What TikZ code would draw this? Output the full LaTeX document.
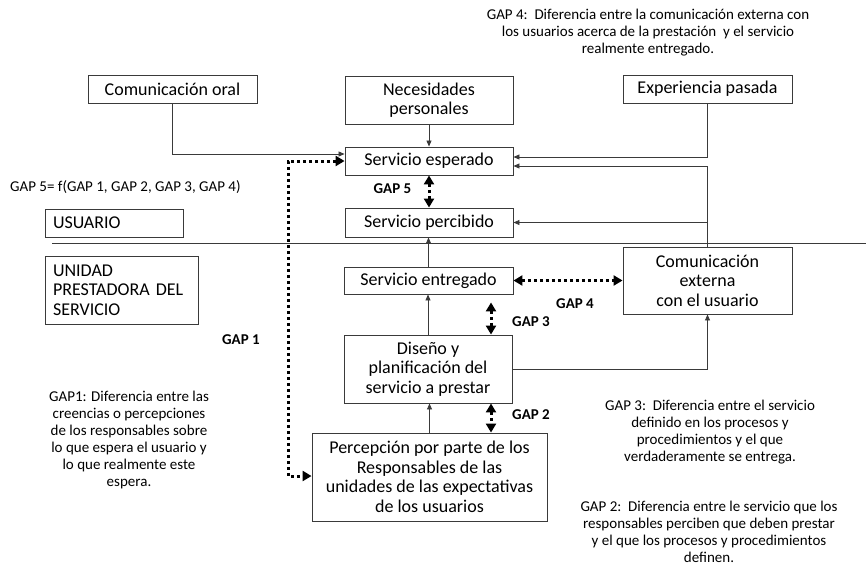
\documentclass[tikz,border=0pt]{standalone}
\usepackage{fontspec}
\setmainfont{Carlito}
\usetikzlibrary{arrows.meta}
\definecolor{linegray}{HTML}{3A3A3A}
\newcommand\bxfont{\fontsize{18}{19.5}\selectfont}
\newcommand\ntfont{\fontsize{15}{17}\selectfont}
\begin{document}
\begin{tikzpicture}[x=1pt,y=-1pt,
  box/.style={draw=linegray, line width=0.9pt, inner sep=0pt, align=center, font=\bxfont},
  sidebox/.style={draw=linegray, line width=0.9pt, inner ysep=0pt, inner xsep=8pt, align=left, font=\bxfont},
  note/.style={align=center, font=\ntfont, inner sep=0pt},
  gaplabel/.style={font=\ntfont\bfseries, inner sep=0pt},
  link/.style={draw=linegray, line width=0.8pt, -{Triangle[length=6pt,width=5pt]}},
  gapline/.style={draw=black, line width=3pt, dash pattern=on 3pt off 3pt,
    {Triangle[length=9pt,width=10pt]}-{Triangle[length=9pt,width=10pt]}}]
\useasboundingbox (0,0) rectangle (866,565);

% influences on the expected service
\node[box, minimum width=169pt, minimum height=28pt] (oral) at (172.5,89) {Comunicación oral};
\node[box, minimum width=168pt, minimum height=48pt] (nec) at (429,100) {Necesidades\\personales};
\node[box, minimum width=169pt, minimum height=28pt] (exp) at (707.5,89) {Experiencia pasada};

% service chain
\node[box, minimum width=168pt, minimum height=28pt] (esp) at (429,161) {Servicio esperado};
\node[box, minimum width=168pt, minimum height=29pt] (per) at (429,222.5) {Servicio percibido};
\node[box, minimum width=169pt, minimum height=27pt] (ent) at (428.5,280.5) {Servicio entregado};
\node[box, minimum width=169pt, minimum height=67pt] (comext) at (707.5,280.5) {Comunicación\\externa\\con el usuario};
\node[box, minimum width=168pt, minimum height=68pt] (dis) at (428,369) {Diseño y\\planificación del\\servicio a prestar};
\node[box, minimum width=235pt, minimum height=88pt] (perc) at (429.5,477) {Percepción por parte de los\\Responsables de las\\unidades de las expectativas\\de los usuarios};

% side labels
\node[sidebox, text width=122pt, minimum height=28pt] (usr) at (114,223) {USUARIO};
\node[sidebox, text width=137pt, minimum height=68pt] (upr) at (121.5,290) {UNIDAD\\PRESTADORA DEL\\SERVICIO};

% divider between user and provider
\coordinate (divl) at (52,243);
\coordinate (divr) at (866,243);
\draw[draw=linegray, line width=0.9pt] (divl) -- (divr);

% solid connectors
\draw[link] (oral.south) |- ([yshift=7pt]esp.west);
\draw[link] (nec.south) -- (esp.north);
\draw[link] (exp.south) |- ([yshift=4pt]esp.east);
\draw[link] (comext.north) |- ([yshift=-5pt]esp.east);
\draw[link] (comext.north |- per.east) -- (per.east);
\draw[link] (ent.north) -- (ent.north |- per.south);
\draw[link] (dis.north) -- (dis.north |- ent.south);
\draw[link] (perc.north) -- (perc.north |- dis.south);
\draw[link] (dis.east) -| (comext.south);

% gaps
\coordinate (gx) at (491,0);
\coordinate (g1top) at (288,161);
\coordinate (g1bot) at (288,476);
\draw[gapline] (esp.west) -- (g1top) -- (g1bot) -- (perc.west |- g1bot);
\draw[gapline] (esp.south) -- (per.north);
\draw[gapline] (ent.east) -- (comext.west);
\draw[gapline, shorten <=8pt] (ent.south -| gx) -- (dis.north -| gx);
\draw[gapline] (dis.south -| gx) -- (perc.north -| gx);

\node[gaplabel] (l5) at (392.5,189) {GAP 5};
\node[gaplabel] (l4) at (575,304) {GAP 4};
\node[gaplabel] (l3) at (531,322) {GAP 3};
\node[gaplabel] (l2) at (531,415) {GAP 2};
\node[gaplabel] (l1) at (241,340) {GAP 1};

% explanatory notes
\node[note, anchor=west] (f5) at (10,187) {GAP 5= f(GAP 1, GAP 2, GAP 3, GAP 4)};
\node[note] (n4) at (648,33) {GAP 4:\ \ Diferencia entre la comunicación externa con\\los usuarios acerca de la prestación\ \ y el servicio\\realmente entregado.};
\node[note] (n1) at (129,439.5) {GAP1: Diferencia entre las\\creencias o percepciones\\de los responsables sobre\\lo que espera el usuario y\\lo que realmente este\\espera.};
\node[note] (n3) at (710,432.5) {GAP 3:\ \ Diferencia entre el servicio\\definido en los procesos y\\procedimientos y el que\\verdaderamente se entrega.};
\node[note] (n2) at (709,532) {GAP 2:\ \ Diferencia entre le servicio que los\\responsables perciben que deben prestar\\y el que los procesos y procedimientos\\definen.};
\end{tikzpicture}
\end{document}
